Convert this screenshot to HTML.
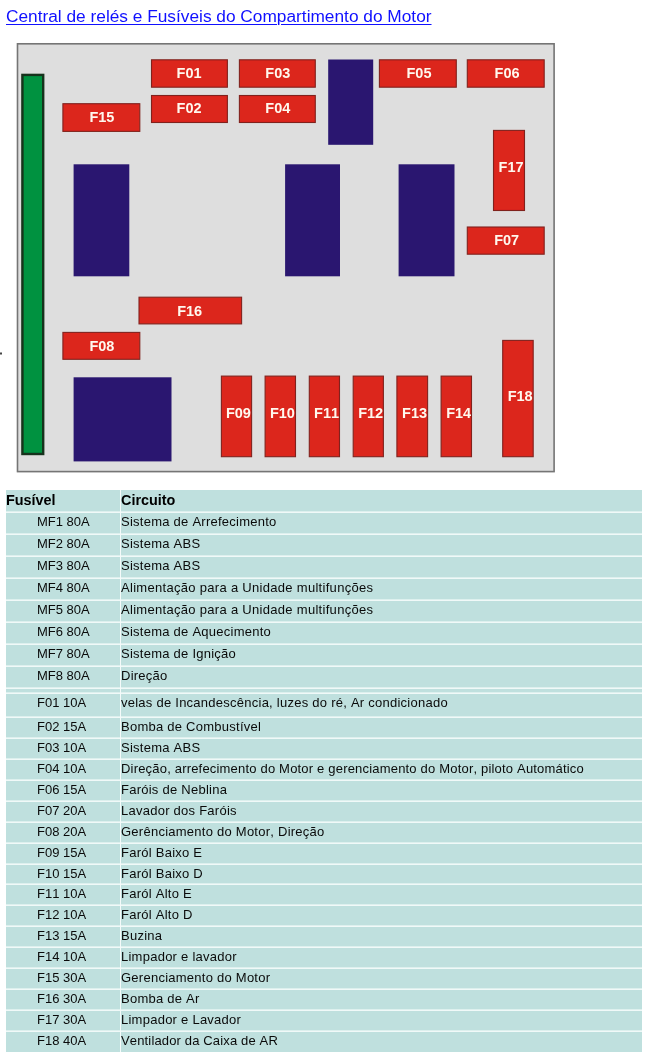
<!DOCTYPE html>
<html lang="pt"><head><meta charset="utf-8"><title>Central de relés e Fusíveis do Compartimento do Motor</title>
<style>
html,body{margin:0;padding:0;background:#fff;}
body{width:645px;height:1054px;position:relative;overflow:hidden;font-kerning:none;font-family:"Liberation Sans",Arial,sans-serif;}
a.title{position:absolute;left:6px;top:4px;font-size:17.3px;line-height:24px;color:#1010ff;text-decoration:underline;text-decoration-thickness:1px;text-underline-offset:2px;white-space:nowrap;}
svg.diag{position:absolute;left:0;top:0;width:645px;height:480px;}
svg.diag text{font-kerning:none;font-family:"Liberation Sans",Arial,sans-serif;font-weight:bold;font-size:14.5px;fill:#fff8ee;text-anchor:middle;}
table{position:absolute;left:6px;top:490px;width:636px;border-collapse:separate;border-spacing:0;table-layout:fixed;font-size:13px;color:#0a0a0a;}
td,th{box-sizing:border-box;padding:1px 0 0 0;line-height:16px;white-space:nowrap;overflow:hidden;text-align:left;vertical-align:top;
background:linear-gradient(to bottom,#bfe0de 0,#bfe0de calc(100% - 2px),#ddf0ee calc(100% - 2px),#ddf0ee calc(100% - 1px),#f0f9f8 calc(100% - 1px),#f0f9f8 100%);}
td{letter-spacing:0.25px;}
th{font-size:14.4px;font-weight:bold;color:#000;height:23px;line-height:17px;padding-top:2px;}
tr.last td{background:#bfe0de;}
td.c1,th.c1{width:115px;border-right:1px solid #f4fbfa;}
td.c1{padding-left:31px;letter-spacing:0;}
tr.sp td{line-height:1px;font-size:1px;padding:0;}
</style></head><body>
<a class="title">Central de relés e Fusíveis do Compartimento do Motor</a>
<svg class="diag" viewBox="0 0 645 480">
<defs><filter id="soft" x="-2%" y="-2%" width="104%" height="104%"><feGaussianBlur stdDeviation="0.35"/></filter></defs>
<g filter="url(#soft)">
<rect x="0" y="352.5" width="2" height="2" fill="#444"/>
<rect x="17.5" y="43.8" width="536.6" height="427.8" fill="#dedede" stroke="#747474" stroke-width="1.6"/>
<rect x="22.4" y="74.9" width="20.8" height="379.1" fill="#03923f" stroke="#14301a" stroke-width="2.4"/>
<rect x="328.20" y="59.50" width="45.00" height="85.30" fill="#29166f"/>
<rect x="73.60" y="164.30" width="55.70" height="112.00" fill="#29166f"/>
<rect x="285.10" y="164.30" width="54.90" height="112.00" fill="#29166f"/>
<rect x="398.60" y="164.30" width="55.90" height="112.00" fill="#29166f"/>
<rect x="73.60" y="377.30" width="97.90" height="84.10" fill="#29166f"/>
<rect x="151.50" y="59.80" width="75.90" height="27.40" fill="#dc251d" stroke="#80241f" stroke-width="1.1"/>
<rect x="239.40" y="59.80" width="75.90" height="27.40" fill="#dc251d" stroke="#80241f" stroke-width="1.1"/>
<rect x="379.40" y="59.80" width="76.90" height="27.40" fill="#dc251d" stroke="#80241f" stroke-width="1.1"/>
<rect x="467.30" y="59.80" width="76.90" height="27.40" fill="#dc251d" stroke="#80241f" stroke-width="1.1"/>
<rect x="151.50" y="95.50" width="75.90" height="27.00" fill="#dc251d" stroke="#80241f" stroke-width="1.1"/>
<rect x="239.40" y="95.50" width="75.90" height="27.00" fill="#dc251d" stroke="#80241f" stroke-width="1.1"/>
<rect x="62.90" y="103.70" width="76.90" height="27.70" fill="#dc251d" stroke="#80241f" stroke-width="1.1"/>
<rect x="493.50" y="130.40" width="31.00" height="80.10" fill="#dc251d" stroke="#80241f" stroke-width="1.1"/>
<rect x="467.30" y="227.00" width="76.90" height="27.20" fill="#dc251d" stroke="#80241f" stroke-width="1.1"/>
<rect x="139.00" y="297.20" width="102.60" height="26.70" fill="#dc251d" stroke="#80241f" stroke-width="1.1"/>
<rect x="62.90" y="332.40" width="76.90" height="26.90" fill="#dc251d" stroke="#80241f" stroke-width="1.1"/>
<rect x="221.40" y="376.10" width="30.20" height="80.60" fill="#dc251d" stroke="#80241f" stroke-width="1.1"/>
<rect x="265.10" y="376.10" width="30.40" height="80.60" fill="#dc251d" stroke="#80241f" stroke-width="1.1"/>
<rect x="309.30" y="376.10" width="30.20" height="80.60" fill="#dc251d" stroke="#80241f" stroke-width="1.1"/>
<rect x="353.20" y="376.10" width="30.20" height="80.60" fill="#dc251d" stroke="#80241f" stroke-width="1.1"/>
<rect x="396.90" y="376.10" width="30.70" height="80.60" fill="#dc251d" stroke="#80241f" stroke-width="1.1"/>
<rect x="441.10" y="376.10" width="30.40" height="80.60" fill="#dc251d" stroke="#80241f" stroke-width="1.1"/>
<rect x="502.70" y="340.40" width="30.50" height="116.30" fill="#dc251d" stroke="#80241f" stroke-width="1.1"/>
<text x="189.10" y="78.00">F01</text>
<text x="277.80" y="78.00">F03</text>
<text x="419.00" y="78.00">F05</text>
<text x="507.10" y="78.00">F06</text>
<text x="189.10" y="113.20">F02</text>
<text x="277.80" y="113.20">F04</text>
<text x="101.90" y="121.90">F15</text>
<text x="511.10" y="171.80">F17</text>
<text x="506.70" y="245.20">F07</text>
<text x="189.70" y="315.70">F16</text>
<text x="101.90" y="351.10">F08</text>
<text x="238.40" y="417.80">F09</text>
<text x="282.40" y="417.80">F10</text>
<text x="326.60" y="417.80">F11</text>
<text x="370.70" y="417.80">F12</text>
<text x="414.60" y="417.80">F13</text>
<text x="458.70" y="417.80">F14</text>
<text x="520.20" y="400.50">F18</text>
</g></svg>
<table><tr><th class="c1">Fusível</th><th>Circuito</th></tr>
<tr style="height:22px"><td class="c1">MF1 80A</td><td>Sistema de Arrefecimento</td></tr>
<tr style="height:22px"><td class="c1">MF2 80A</td><td>Sistema ABS</td></tr>
<tr style="height:22px"><td class="c1">MF3 80A</td><td>Sistema ABS</td></tr>
<tr style="height:22px"><td class="c1">MF4 80A</td><td style="letter-spacing:0.3px">Alimentação para a Unidade multifunções</td></tr>
<tr style="height:22px"><td class="c1">MF5 80A</td><td style="letter-spacing:0.3px">Alimentação para a Unidade multifunções</td></tr>
<tr style="height:22px"><td class="c1">MF6 80A</td><td>Sistema de Aquecimento</td></tr>
<tr style="height:22px"><td class="c1">MF7 80A</td><td>Sistema de Ignição</td></tr>
<tr style="height:22px"><td class="c1">MF8 80A</td><td>Direção</td></tr>
<tr class="sp" style="height:5px"><td class="c1"></td><td></td></tr>
<tr style="height:24px"><td class="c1">F01 10A</td><td>velas de Incandescência, luzes do ré, Ar condicionado</td></tr>
<tr style="height:21px"><td class="c1">F02 15A</td><td>Bomba de Combustível</td></tr>
<tr style="height:21px"><td class="c1">F03 10A</td><td>Sistema ABS</td></tr>
<tr style="height:21px"><td class="c1">F04 10A</td><td style="letter-spacing:0.19px">Direção, arrefecimento do Motor e gerenciamento do Motor, piloto Automático</td></tr>
<tr style="height:21px"><td class="c1">F06 15A</td><td>Faróis de Neblina</td></tr>
<tr style="height:21px"><td class="c1">F07 20A</td><td>Lavador dos Faróis</td></tr>
<tr style="height:21px"><td class="c1">F08 20A</td><td>Gerênciamento do Motor, Direção</td></tr>
<tr style="height:21px"><td class="c1">F09 15A</td><td>Faról Baixo E</td></tr>
<tr style="height:20px"><td class="c1">F10 15A</td><td>Faról Baixo D</td></tr>
<tr style="height:21px"><td class="c1">F11 10A</td><td>Faról Alto E</td></tr>
<tr style="height:21px"><td class="c1">F12 10A</td><td>Faról Alto D</td></tr>
<tr style="height:21px"><td class="c1">F13 15A</td><td>Buzina</td></tr>
<tr style="height:21px"><td class="c1">F14 10A</td><td>Limpador e lavador</td></tr>
<tr style="height:21px"><td class="c1">F15 30A</td><td>Gerenciamento do Motor</td></tr>
<tr style="height:21px"><td class="c1">F16 30A</td><td>Bomba de Ar</td></tr>
<tr style="height:21px"><td class="c1">F17 30A</td><td>Limpador e Lavador</td></tr>
<tr class="last" style="height:20px"><td class="c1">F18 40A</td><td style="letter-spacing:0.15px">Ventilador da Caixa de AR</td></tr>
</table></body></html>
